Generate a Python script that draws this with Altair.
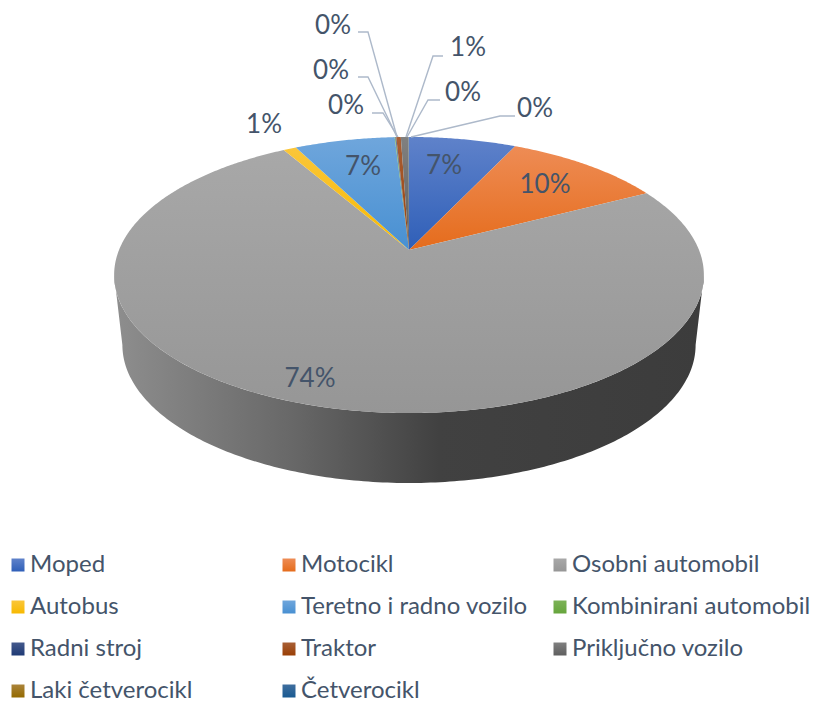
import numpy as np
import altair as alt

categories = ["Moped", "Motocikl", "Osobni automobil", "Autobus", "Teretno i radno vozilo",
              "Kombinirani automobil", "Radni stroj", "Traktor", "Priključno vozilo",
              "Laki četverocikl", "Četverocikl"]
shares = [7.0, 10.4, 74.27, 0.85, 6.55, 0.05, 0.05, 0.3, 0.5, 0.01, 0.02]
labels = ["7%", "10%", "74%", "1%", "7%", "0%", "0%", "0%", "1%", "0%", "0%"]
top_colors = ["#5f82ca", "#ee8c55", "#a8a8a8", "#fac63a", "#6fa6dc", "#7cb257", "#44598c", "#a85f36", "#808080", "#ab843a", "#3f6e9e"]
bottom_colors = ["#2f5fb8", "#e56c1c", "#969696", "#f7b900", "#4890d2", "#66a53c", "#1f3a75", "#9a3f05", "#5f5f5f", "#946a00", "#195a92"]

# label centres and leader-line elbows, in page pixels
label_x = [444, 545, 310, 264, 363, 346, 331, 333, 468, 463, 535]
label_y = [166, 185, 379, 125, 167, 106, 71, 26, 48, 93, 109]
leaders = [
    None, None, None, None, None,
    [(372, 113), (383, 113), (398, 137)],
    [(358, 77), (368, 77), (397, 137)],
    [(358, 32), (368, 32), (397, 137)],
    [(443, 56), (433, 56), (406, 137)],
    [(440, 100), (428, 100), (407, 137)],
    [(515, 116), (500, 116), (411, 137)],
]

# perspective of the disc
CX, APEX_Y, K, AX, AY = 409.0, 250.0, 0.181, 290.0, 133.5
DEPTH = 70.0
INK = "#44546a"
FONT = "Lato"


def rim(theta, shrink=1.0, drop=0.0):
    s, c = np.sin(theta), np.cos(theta)
    w = 1 + K * c
    return CX + shrink * AX * s / w, APEX_Y - AY * c / w + drop


def wedge(start, end):
    n = max(3, int((end - start) / np.radians(0.5)))
    t = np.linspace(start, end, n)
    x, y = rim(t)
    ring = [[CX, APEX_Y]] + [[float(a), float(b)] for a, b in zip(x, y)] + [[CX, APEX_Y]]
    return ring


def feature(geom_type, coords, **props):
    return {"type": "Feature", "geometry": {"type": geom_type, "coordinates": coords}, "properties": props}


edges = np.radians(np.cumsum([0.0] + shares) * 3.6)
wedges = [feature("Polygon", [wedge(edges[i], edges[i + 1])], name=categories[i]) for i in range(len(categories))]

# side wall: front half of the lower rim joined to the front half of the upper rim
t_top = np.linspace(np.radians(100.4), np.radians(259.6), 200)
xt, yt = rim(t_top)
xb, yb = rim(t_top, shrink=0.972, drop=DEPTH)
wall_ring = [[float(a), float(b)] for a, b in zip(xt, yt)] + [[float(a), float(b)] for a, b in zip(xb[::-1], yb[::-1])]
wall_ring.append(wall_ring[0])
wall = [feature("Polygon", [wall_ring])]

leader_lines = [feature("LineString", [list(p) for p in l]) for l in leaders if l]


def vgrad(a, b):
    return alt.expr("{gradient:'linear',x1:0,y1:0,x2:0,y2:1,stops:[{offset:0,color:'%s'},{offset:1,color:'%s'}]}" % (a, b))


proj = dict(type="identity", scale=1, translate=[-8, -8])

wall_layer = alt.Chart(alt.Data(values=wall)).mark_geoshape(
    strokeWidth=0,
    fill=alt.Gradient(gradient="linear", x1=0, y1=0, x2=1, y2=0, stops=[
        alt.GradientStop(offset=0, color="#8e8e8e"),
        alt.GradientStop(offset=0.3, color="#686868"),
        alt.GradientStop(offset=0.55, color="#414141"),
        alt.GradientStop(offset=1, color="#3c3c3c"),
    ]),
).project(**proj)

pie_layer = alt.Chart(alt.Data(values=wedges)).mark_geoshape(strokeWidth=0).encode(
    color=alt.Color(
        "properties.name:N",
        scale=alt.Scale(domain=categories, range=[vgrad(a, b) for a, b in zip(top_colors, bottom_colors)]),
        legend=alt.Legend(
            title=None, orient="none", legendX=-2, legendY=545, columns=3, gridAlign="all", direction="horizontal",
            padding=0, symbolType="square", symbolSize=169, symbolStrokeWidth=0, labelFont=FONT, labelFontSize=24,
            labelColor=INK, labelLimit=300, labelOffset=0, rowPadding=18, columnPadding=8,
        ),
    )
).project(**proj)

leader_layer = alt.Chart(alt.Data(values=leader_lines)).mark_geoshape(
    filled=False, stroke="#adb9ca", strokeWidth=1.4
).project(**proj)

label_rows = [{"t": t, "x": x, "y": y} for t, x, y in zip(labels, label_x, label_y)]
text_layer = alt.Chart(alt.Data(values=label_rows)).mark_text(
    font=FONT, fontSize=26, color=INK, align="center", baseline="middle"
).encode(longitude="x:Q", latitude="y:Q", text="t:N").project(**proj)

chart = alt.layer(wall_layer, pie_layer, leader_layer, text_layer).properties(
    width=805, height=694, padding=0, autosize=alt.AutoSizeParams(type="none"), background="white"
).configure_view(stroke=None)

chart.save("out.html", embed_options={"renderer": "svg", "actions": False})
